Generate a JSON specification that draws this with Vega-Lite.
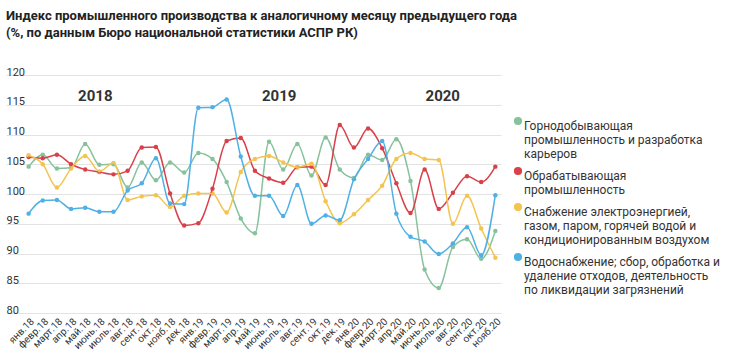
{
  "$schema": "https://vega.github.io/schema/vega-lite/v6.json",
  "width": 495,
  "height": 238,
  "autosize": {"type": "none"},
  "padding": {"left": 6, "top": 75, "right": 229, "bottom": 43},
  "background": "white",
  "title": {
    "text": ["Индекс промышленного производства к аналогичному месяцу предыдущего года", "(%, по данным Бюро национальной статистики АСПР РК)"],
    "anchor": "start",
    "frame": "group",
    "font": "Roboto",
    "fontSize": 13,
    "fontWeight": "bold",
    "color": "#222222",
    "lineHeight": 17,
    "offset": 26
  },
  "config": {
    "view": {"stroke": null},
    "font": "Roboto",
    "axisY": {
      "title": null,
      "domain": false,
      "ticks": false,
      "tickSize": 0,
      "grid": true,
      "gridColor": "#e3e3e3",
      "gridWidth": 1,
      "labelAlign": "left",
      "labelBaseline": "alphabetic",
      "labelPadding": 0,
      "labelDy": -3,
      "labelFontSize": 11,
      "labelColor": "#333333",
      "labelFont": "Roboto",
      "labelFlush": false,
      "labelOverlap": false,
      "labelBound": false
    },
    "axisX": {
      "title": null,
      "domain": false,
      "ticks": false,
      "grid": false,
      "labelAngle": -45,
      "labelFontSize": 10,
      "labelColor": "#333333",
      "labelPadding": 3,
      "labelFont": "Roboto"
    }
  },
  "datasets": {
    "series": [
      {"m": "янв.18", "g": 104.6, "r": 106.2, "y": 106.5, "b": 96.7},
      {"m": "февр.18", "g": 106.6, "r": 106.0, "y": 105.0, "b": 98.9},
      {"m": "март.18", "g": 104.3, "r": 106.6, "y": 101.1, "b": 99.0},
      {"m": "апр.18", "g": 104.4, "r": 105.0, "y": 104.3, "b": 97.5},
      {"m": "май.18", "g": 108.4, "r": 104.1, "y": 106.4, "b": 97.7},
      {"m": "июнь.18", "g": 104.9, "r": 103.7, "y": 103.8, "b": 97.0},
      {"m": "июль.18", "g": 105.0, "r": 103.3, "y": 105.2, "b": 97.0},
      {"m": "авг.18", "g": 101.1, "r": 103.9, "y": 99.0, "b": 100.6},
      {"m": "сент.18", "g": 105.3, "r": 107.8, "y": 99.6, "b": 101.8},
      {"m": "окт.18", "g": 102.3, "r": 107.9, "y": 99.8, "b": 106.0},
      {"m": "нояб.18", "g": 105.3, "r": 100.1, "y": 97.8, "b": 98.4},
      {"m": "дек.18", "g": 103.6, "r": 94.7, "y": 99.7, "b": 98.3},
      {"m": "янв.19", "g": 106.9, "r": 95.1, "y": 100.1, "b": 114.5},
      {"m": "февр.19", "g": 105.9, "r": 100.9, "y": 100.1, "b": 114.6},
      {"m": "март.19", "g": 102.0, "r": 108.9, "y": 96.9, "b": 115.9},
      {"m": "апр.19", "g": 95.9, "r": 109.4, "y": 103.7, "b": 106.3},
      {"m": "май.19", "g": 93.4, "r": 103.9, "y": 105.9, "b": 99.7},
      {"m": "июнь.19", "g": 108.8, "r": 102.6, "y": 106.4, "b": 99.7},
      {"m": "июль.19", "g": 104.1, "r": 101.9, "y": 105.3, "b": 96.3},
      {"m": "авг.19", "g": 108.4, "r": 104.5, "y": 104.5, "b": 101.5},
      {"m": "сент.19", "g": 103.1, "r": 104.6, "y": 105.1, "b": 95.0},
      {"m": "окт.19", "g": 109.5, "r": 101.5, "y": 98.8, "b": 96.4},
      {"m": "дек.19", "g": 104.1, "r": 111.6, "y": 95.1, "b": 95.6},
      {"m": "янв.20", "g": 102.7, "r": 107.8, "y": 96.6, "b": 102.5},
      {"m": "февр.20", "g": 106.6, "r": 111.0, "y": 99.0, "b": 105.9},
      {"m": "март.20", "g": 105.7, "r": 107.7, "y": 101.4, "b": 108.9},
      {"m": "апр.20", "g": 109.2, "r": 101.8, "y": 105.9, "b": 96.7},
      {"m": "май.20", "g": 102.2, "r": 96.8, "y": 106.9, "b": 92.8},
      {"m": "июнь.20", "g": 87.3, "r": 104.1, "y": 105.9, "b": 92.0},
      {"m": "июль.20", "g": 84.2, "r": 97.5, "y": 105.7, "b": 89.9},
      {"m": "авг.20", "g": 91.1, "r": 100.2, "y": 95.0, "b": 91.7},
      {"m": "сент.20", "g": 92.4, "r": 103.0, "y": 99.7, "b": 94.4},
      {"m": "окт.20", "g": 89.1, "r": 102.0, "y": 94.2, "b": 89.7},
      {"m": "нояб.20", "g": 93.8, "r": 104.6, "y": 89.3, "b": 99.8}
    ],
    "years": [
      {"year": "2018", "m": "июнь.18", "side": "a"},
      {"year": "2019", "m": "июль.19", "side": "a"},
      {"year": "2020", "m": "июль.20", "side": "b"}
    ]
  },
  "layer": [
    {
      "data": {"name": "series"},
      "transform": [{"fold": ["g", "r", "y", "b"], "as": ["key", "v"]}],
      "mark": {"type": "point", "filled": true, "size": 20, "opacity": 1},
      "encoding": {
        "x": {
          "field": "m",
          "type": "nominal",
          "scale": {
            "type": "point",
            "padding": 1.18,
            "align": 0.8,
            "domain": ["янв.18", "февр.18", "март.18", "апр.18", "май.18", "июнь.18", "июль.18", "авг.18", "сент.18", "окт.18", "нояб.18", "дек.18", "янв.19", "февр.19", "март.19", "апр.19", "май.19", "июнь.19", "июль.19", "авг.19", "сент.19", "окт.19", "дек.19", "янв.20", "февр.20", "март.20", "апр.20", "май.20", "июнь.20", "июль.20", "авг.20", "сент.20", "окт.20", "нояб.20"]
          }
        },
        "y": {
          "field": "v",
          "type": "quantitative",
          "scale": {"domain": [80, 120], "zero": false, "nice": false},
          "axis": {"values": [80, 85, 90, 95, 100, 105, 110, 115, 120]}
        },
        "color": {
          "field": "key",
          "type": "nominal",
          "scale": {"domain": ["g", "r", "y", "b"], "range": ["#86c29c", "#d9404a", "#f3c450", "#4fb0e6"]},
          "legend": {
            "title": null,
            "orient": "none",
            "legendX": 506,
            "legendY": 40,
            "padding": 0,
            "symbolType": "circle",
            "symbolSize": 45,
            "symbolOpacity": 1,
            "labelFont": "Roboto",
            "labelFontSize": 12,
            "labelColor": "#333333",
            "labelBaseline": "top",
            "labelLineHeight": 15,
            "labelOffset": 0,
            "labelLimit": 0,
            "rowPadding": 4,
            "labelExpr": "datum.value == 'g' ? ['Горнодобывающая', 'промышленность и разработка', 'карьеров'] : datum.value == 'r' ? ['Обрабатывающая', 'промышленность'] : datum.value == 'y' ? ['Снабжение электроэнергией,', 'газом, паром, горячей водой и', 'кондиционированным воздухом'] : ['Водоснабжение; сбор, обработка и', 'удаление отходов, деятельность', 'по ликвидации загрязнений']"
          }
        }
      }
    },
    {
      "data": {"name": "series"},
      "transform": [{"fold": ["g", "r", "y", "b"], "as": ["key", "v"]}],
      "mark": {"type": "line", "interpolate": "monotone", "strokeWidth": 1.5},
      "encoding": {
        "x": {"field": "m", "type": "nominal"},
        "y": {"field": "v", "type": "quantitative", "axis": {"values": [80, 85, 90, 95, 100, 105, 110, 115, 120]}},
        "color": {"field": "key", "type": "nominal"}
      }
    },
    {
      "mark": {"type": "rule", "color": "#111111", "strokeWidth": 1, "strokeDash": [1.5, 1.5]},
      "encoding": {
        "x": {"datum": "янв.19", "type": "nominal"},
        "y": {"datum": 118.2, "type": "quantitative", "axis": {"values": [80, 85, 90, 95, 100, 105, 110, 115, 120]}},
        "y2": {"datum": 82.6}
      }
    },
    {
      "mark": {"type": "rule", "color": "#8a8a8a", "strokeWidth": 2, "strokeDash": [1, 1]},
      "encoding": {
        "x": {"datum": "янв.20", "type": "nominal"},
        "y": {"datum": 118.2, "type": "quantitative", "axis": {"values": [80, 85, 90, 95, 100, 105, 110, 115, 120]}},
        "y2": {"datum": 82.6}
      }
    },
    {
      "mark": {"type": "rule", "color": "#111111", "strokeWidth": 1, "strokeDash": [1, 1.5]},
      "encoding": {
        "x": {"datum": "янв.18", "type": "nominal"},
        "x2": {"datum": "нояб.20"},
        "y": {"datum": 100, "type": "quantitative", "axis": {"values": [80, 85, 90, 95, 100, 105, 110, 115, 120]}}
      }
    },
    {
      "data": {"name": "years"},
      "transform": [{"filter": "datum.side == 'a'"}],
      "mark": {"type": "text", "font": "Roboto", "fontSize": 15, "fontWeight": "bold", "color": "#333333", "dx": -4, "baseline": "middle"},
      "encoding": {
        "x": {"field": "m", "type": "nominal"},
        "y": {"datum": 116.5, "type": "quantitative", "axis": {"values": [80, 85, 90, 95, 100, 105, 110, 115, 120]}},
        "text": {"field": "year", "type": "nominal"}
      }
    },
    {
      "data": {"name": "years"},
      "transform": [{"filter": "datum.side == 'b'"}],
      "mark": {"type": "text", "font": "Roboto", "fontSize": 15, "fontWeight": "bold", "color": "#333333", "dx": 4, "baseline": "middle"},
      "encoding": {
        "x": {"field": "m", "type": "nominal"},
        "y": {"datum": 116.5, "type": "quantitative", "axis": {"values": [80, 85, 90, 95, 100, 105, 110, 115, 120]}},
        "text": {"field": "year", "type": "nominal"}
      }
    }
  ]
}
